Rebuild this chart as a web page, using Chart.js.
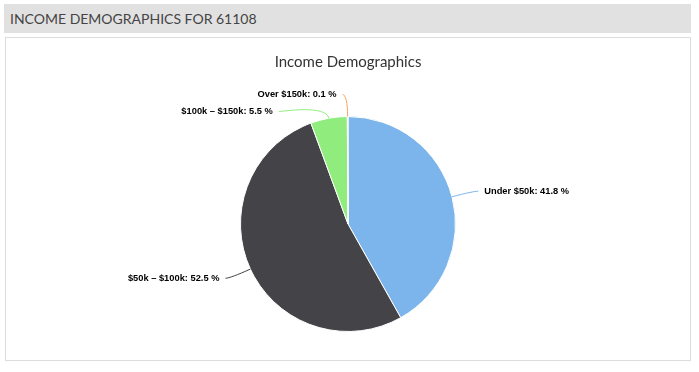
<!DOCTYPE html>
<html>
<head>
<meta charset="utf-8">
<script src="https://cdn.jsdelivr.net/npm/chart.js@4"></script>
<style>
  html, body { margin: 0; padding: 0; background: #fff; width: 699px; height: 372px; overflow: hidden; }
  #hdr { position: absolute; left: 4px; top: 4px; width: 687px; height: 29px; background: #e1e1e1;
         font-family: Lato, sans-serif; font-size: 14px; color: #444; line-height: 30px; box-sizing: border-box; padding-left: 6px; }
  #box { position: absolute; left: 5px; top: 37px; width: 684px; height: 322px; border: 1px solid #dcdcdc; background: #fff; }
  canvas { display: block; }
</style>
</head>
<body>
<div id="hdr">INCOME DEMOGRAPHICS FOR 61108</div>
<div id="box"><canvas id="c" width="684" height="322"></canvas></div>
<script>
const categories = ['Under $50k', '$50k \u2013 $100k', '$100k \u2013 $150k', 'Over $150k'];
const shares = [41.8, 52.5, 5.5, 0.1];
const sliceColors = ['#7cb5ec', '#434348', '#90ed7d', '#f7a35c'];
const chartTitle = 'Income Demographics';

const labelPlugin = {
  id: 'pieLabels',
  afterDatasetsDraw(chart) {
    const ctx = chart.ctx;
    const meta = chart.getDatasetMeta(0);
    const items = meta.data.map((arc, i) => {
      const p = arc.getProps(['x', 'y', 'startAngle', 'endAngle', 'outerRadius'], true);
      const mid = (p.startAngle + p.endAngle) / 2;
      const R = p.outerRadius + 22;
      return {
        i, cx: p.x, cy: p.y, r: p.outerRadius, R, mid,
        side: Math.cos(mid) >= 0 ? 1 : -1,
        y: p.y + R * Math.sin(mid)
      };
    });
    [1, -1].forEach(side => {
      const list = items.filter(o => o.side === side).sort((a, b) => a.y - b.y);
      for (let k = 1; k < list.length; k++) {
        if (list[k].y - list[k - 1].y < 17) list[k].y = list[k - 1].y + 17;
      }
    });
    ctx.save();
    items.forEach(o => {
      const dy = o.y - o.cy;
      const x = o.cx + o.side * Math.sqrt(Math.max(0, o.R * o.R - dy * dy));
      const ex = o.cx + o.r * Math.cos(o.mid), ey = o.cy + o.r * Math.sin(o.mid);
      const bx = o.cx + (o.r + 14) * Math.cos(o.mid), by = o.cy + (o.r + 14) * Math.sin(o.mid);
      ctx.beginPath();
      ctx.strokeStyle = sliceColors[o.i];
      ctx.lineWidth = 1;
      ctx.moveTo(ex, ey);
      ctx.bezierCurveTo(bx, by, x + o.side * 2, o.y, x + o.side * 5, o.y);
      ctx.stroke();
      ctx.font = 'bold 9.3px "Liberation Sans", Arial, sans-serif';
      ctx.fillStyle = '#000';
      ctx.textBaseline = 'middle';
      ctx.textAlign = o.side > 0 ? 'left' : 'right';
      ctx.fillText(categories[o.i] + ': ' + shares[o.i] + ' %', x + o.side * 11, o.y);
    });
    ctx.restore();
  }
};

new Chart(document.getElementById('c'), {
  type: 'pie',
  data: {
    labels: categories,
    datasets: [{
      data: shares,
      backgroundColor: sliceColors,
      borderColor: '#ffffff',
      borderWidth: 1
    }]
  },
  options: {
    responsive: false,
    animation: false,
    devicePixelRatio: 1,
    layout: { padding: { top: 0, bottom: 28, left: 0, right: 0 } },
    plugins: {
      legend: { display: false },
      tooltip: { enabled: false },
      title: {
        display: true,
        text: chartTitle,
        color: '#333333',
        font: { family: 'Lato', size: 15, weight: 'normal' },
        padding: { top: 15, bottom: 45 }
      }
    }
  },
  plugins: [labelPlugin]
});
</script>
</body>
</html>
